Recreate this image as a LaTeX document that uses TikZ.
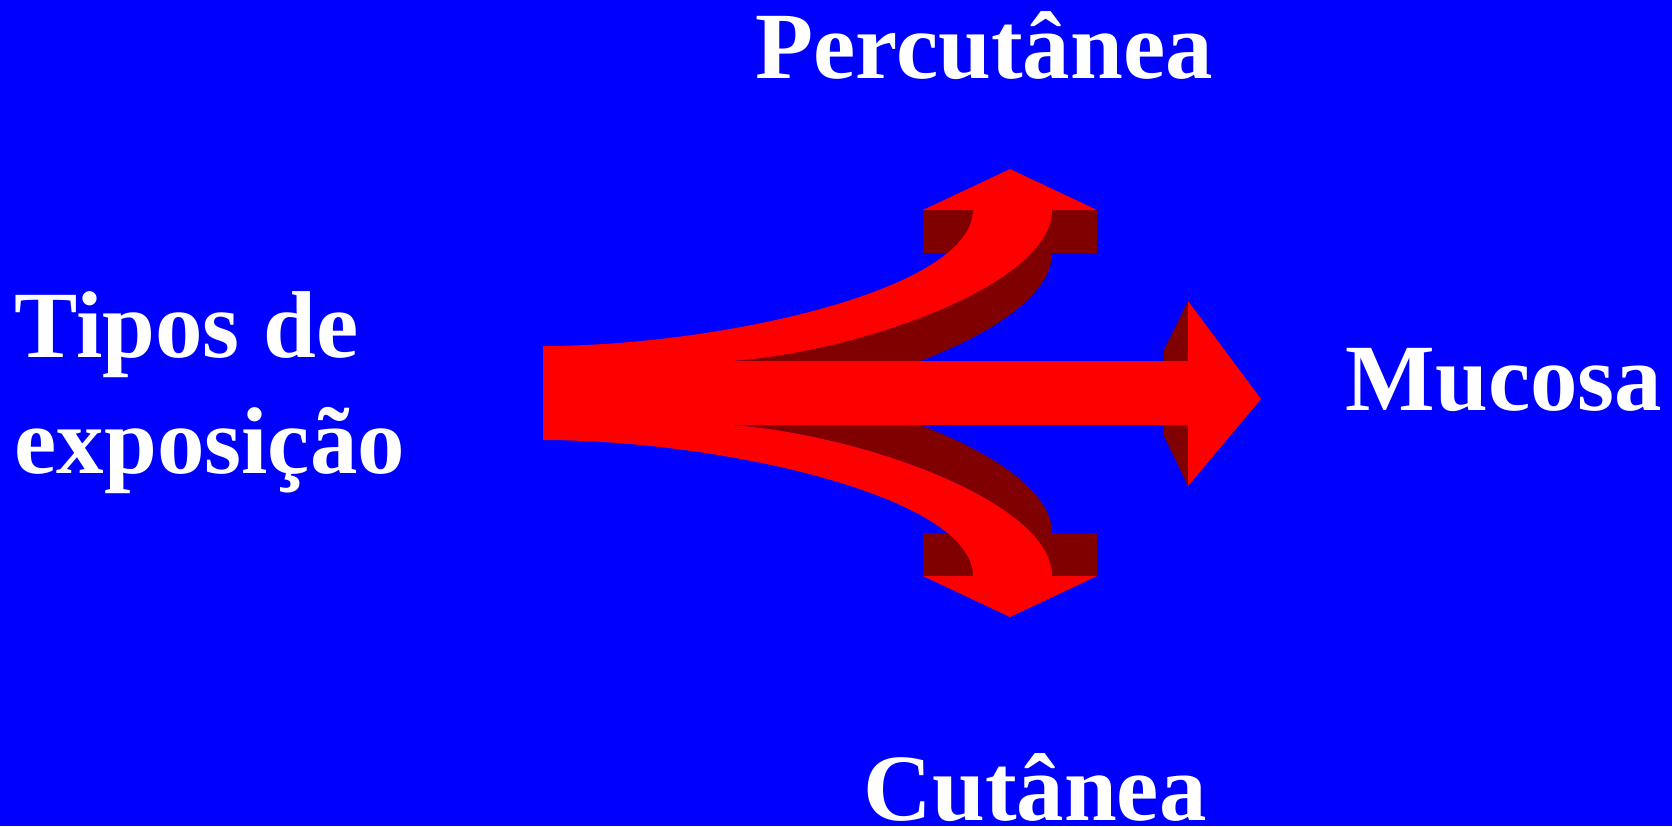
\documentclass[tikz,border=0pt]{standalone}
\usepackage{fontspec}
\setmainfont{Liberation Serif}
\definecolor{bgblue}{RGB}{0,0,255}
\definecolor{shadered}{RGB}{128,0,0}
\begin{document}
\begin{tikzpicture}[x=0.01cm,y=-0.01cm,line join=round,
    lbl/.style={text=white,font=\fontsize{27}{33}\selectfont\bfseries,inner sep=0pt,anchor=base west}]
  \fill[bgblue] (0,0) rectangle (1672,826);
  \useasboundingbox (0,0) rectangle (1672,826);

  % dark sides of the arrows
  \fill[shadered] (704,362) .. controls (830,362) and (1052,290) .. (1052,210) -- (1052,253) .. controls (1052,333) and (830,405) .. (704,405) -- cycle;
  \fill[shadered] (923,210) rectangle (1097,253);
  \fill[shadered] (704,424) .. controls (830,424) and (1052,496) .. (1052,576) -- (1052,533) .. controls (1052,453) and (830,381) .. (704,381) -- cycle;
  \fill[shadered] (923,533) rectangle (1097,576);
  \fill[shadered] (1188,301) -- (1164,350) -- (1164,436) -- (1188,486) -- cycle;

  % red arrows
  \fill[red] (543,346) .. controls (719,346) and (973,290) .. (973,210) -- (1052,210) .. controls (1052,290) and (830,362) .. (704,362) -- (543,362) -- cycle;
  \fill[red] (543,440) .. controls (719,440) and (973,496) .. (973,576) -- (1052,576) .. controls (1052,496) and (830,424) .. (704,424) -- (543,424) -- cycle;
  \fill[red] (543,361) rectangle (1189,425);
  \fill[red] (923,210) -- (1010,169) -- (1097,210) -- cycle;
  \fill[red] (923,576) -- (1010,617) -- (1097,576) -- cycle;
  \fill[red] (1188,301) -- (1261,399) -- (1188,486) -- cycle;

  \node[lbl] (percutanea) at (755,78) {Percutânea};
  \node[lbl] (tipos) at (14,357) {Tipos de};
  \node[lbl] (exposicao) at (14,473) {exposição};
  \node[lbl] (mucosa) at (1345,410) {Mucosa};
  \node[lbl] (cutanea) at (863,820) {Cutânea};
\end{tikzpicture}
\end{document}
